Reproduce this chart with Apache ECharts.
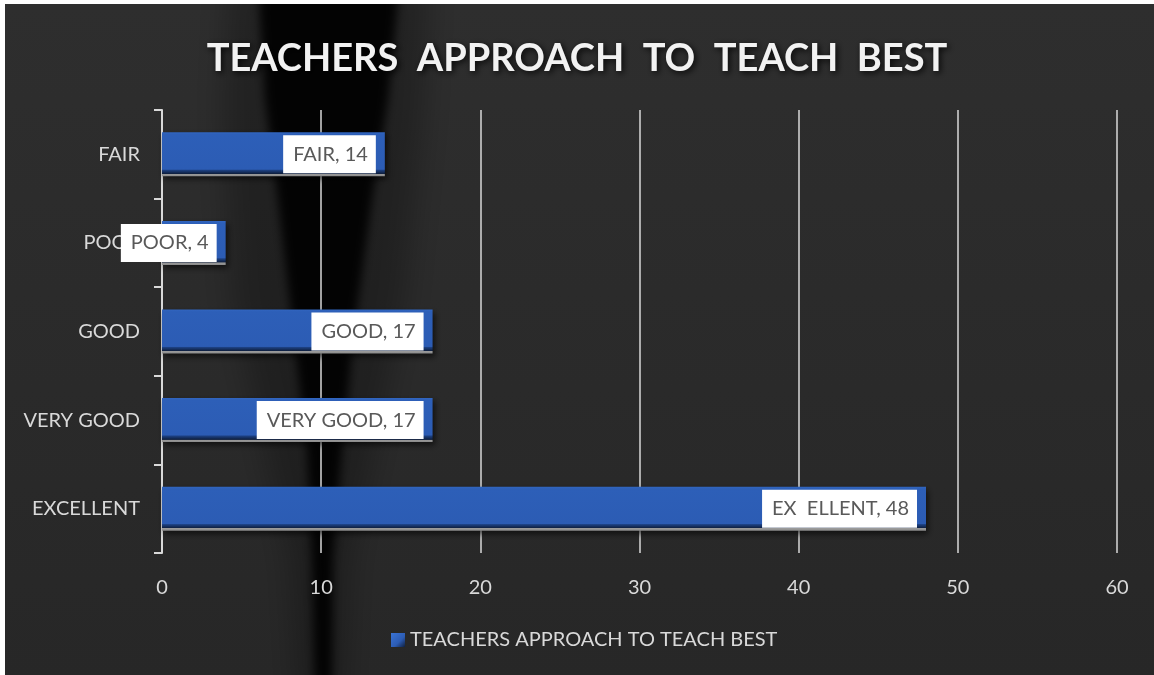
<!DOCTYPE html>
<html>
<head>
<meta charset="utf-8">
<script src="https://cdn.jsdelivr.net/npm/echarts@6/dist/echarts.min.js"></script>
<style>
  html, body { margin: 0; padding: 0; background: #fff; }
  #chart { width: 1154px; height: 675px; }
</style>
</head>
<body>
<div id="chart"></div>
<script>
// categories bottom -> top (echarts category y axis starts at the bottom)
var categories = ['EXCELLENT', 'VERY GOOD', 'GOOD', 'POOR', 'FAIR'];
var values = [48, 17, 17, 4, 14];
// label names as they appear on the bars
var labelNames = ['EX  ELLENT', 'VERY GOOD', 'GOOD', 'POOR', 'FAIR'];
var xTicks = [0, 10, 20, 30, 40, 50, 60];
var seriesName = 'TEACHERS APPROACH TO TEACH BEST';
var titleText = 'TEACHERS  APPROACH  TO  TEACH  BEST';

var font = 'Lato, "Open Sans", sans-serif';
var OFF = 3000; // shapes drawn off screen, only their blurred shadow shows

function shift(points) {
  return points.map(function (p) { return [p[0] + OFF, p[1]]; });
}

var myChart = echarts.init(document.getElementById('chart'));

var barColor = new echarts.graphic.LinearGradient(0, 0, 0, 1, [
  { offset: 0, color: '#3166c0' },
  { offset: 0.05, color: '#2d5fb8' },
  { offset: 0.84, color: '#2c5cb4' },
  { offset: 0.86, color: '#1d4183' },
  { offset: 0.94, color: '#0e1f3f' },
  { offset: 0.95, color: '#9a9a9a' },
  { offset: 1, color: '#8a8a8a' }
]);

var iconColor = new echarts.graphic.LinearGradient(0, 0, 1, 1, [
  { offset: 0, color: '#3a74d6' },
  { offset: 0.6, color: '#2c5cb4' },
  { offset: 1, color: '#10203f' }
]);

var option = {
  backgroundColor: '#ffffff',
  animation: false,
  graphic: [
    {
      type: 'rect', z: -30, silent: true,
      shape: { x: 5, y: 4, width: 1154, height: 675 },
      style: {
        fill: new echarts.graphic.LinearGradient(0, 0, 0, 1, [
          { offset: 0, color: '#2e2e2e' },
          { offset: 1, color: '#272727' }
        ])
      }
    },
    {
      type: 'polygon', z: -20, silent: true,
      shape: { points: shift([[228,-20],[430,-20],[424,110],[405,300],[374,450],[350,560],[344,700],[298,700],[290,560],[265,450],[232,300],[222,110]]) },
      style: { fill: 'rgba(0,0,0,0.5)', shadowColor: 'rgba(0,0,0,0.5)', shadowBlur: 30, shadowOffsetX: -OFF }
    },
    {
      type: 'polygon', z: -19, silent: true,
      shape: { points: shift([[258,-20],[400,-20],[388,100],[372,200],[354,330],[342,450],[333,560],[332,700],[315,700],[312,560],[307,450],[293,330],[278,200],[265,100]]) },
      style: { fill: 'rgba(0,0,0,0.95)', shadowColor: 'rgba(0,0,0,0.95)', shadowBlur: 10, shadowOffsetX: -OFF }
    },
    // white frame on top and left
    { type: 'rect', z: -10, silent: true, shape: { x: 0, y: 0, width: 1154, height: 4 }, style: { fill: '#fff' } },
    { type: 'rect', z: -10, silent: true, shape: { x: 0, y: 0, width: 5, height: 675 }, style: { fill: '#fff' } }
  ],
  title: {
    text: titleText,
    left: 'center',
    top: 35,
    textStyle: {
      fontFamily: font,
      fontWeight: 'bold',
      fontSize: 38,
      color: '#f2f2f2',
      textShadowColor: 'rgba(0,0,0,0.85)',
      textShadowBlur: 6,
      textShadowOffsetX: 2,
      textShadowOffsetY: 2
    }
  },
  legend: {
    data: [{ name: seriesName, itemStyle: { color: iconColor } }],
    bottom: 20,
    left: 386,
    icon: 'rect',
    itemWidth: 14,
    itemHeight: 14,
    itemGap: 6,
    textStyle: { color: '#d9d9d9', fontSize: 20, fontFamily: font }
  },
  grid: { left: 162, right: 37, top: 110, bottom: 122 },
  xAxis: {
    type: 'value',
    min: xTicks[0],
    max: xTicks[xTicks.length - 1],
    interval: 10,
    axisLine: { show: false },
    axisTick: { show: false },
    splitLine: { lineStyle: { color: '#d9d9d9', width: 1.5 } },
    axisLabel: { color: '#d9d9d9', fontSize: 20, fontFamily: font, margin: 25 }
  },
  yAxis: {
    type: 'category',
    data: categories,
    axisLine: { lineStyle: { color: '#d9d9d9', width: 2 } },
    axisTick: { show: true, length: 8, lineStyle: { color: '#d9d9d9', width: 2 } },
    axisLabel: { color: '#d9d9d9', fontSize: 20, fontFamily: font, margin: 22, padding: [4, 0, 0, 0] }
  },
  series: [{
    name: seriesName,
    type: 'bar',
    data: values,
    barWidth: 44,
    itemStyle: {
      color: barColor,
      shadowColor: 'rgba(0,0,0,0.6)',
      shadowBlur: 6,
      shadowOffsetY: 3,
      shadowOffsetX: 2
    },
    label: {
      show: true,
      position: 'insideRight',
      distance: 9,
      formatter: function (p) { return labelNames[p.dataIndex] + ', ' + p.value; },
      backgroundColor: '#ffffff',
      color: '#595959',
      fontSize: 20,
      fontFamily: font,
      lineHeight: 24,
      padding: [7, 8, 7, 10]
    },
    z: 3
  }]
};

myChart.setOption(option);
</script>
</body>
</html>
